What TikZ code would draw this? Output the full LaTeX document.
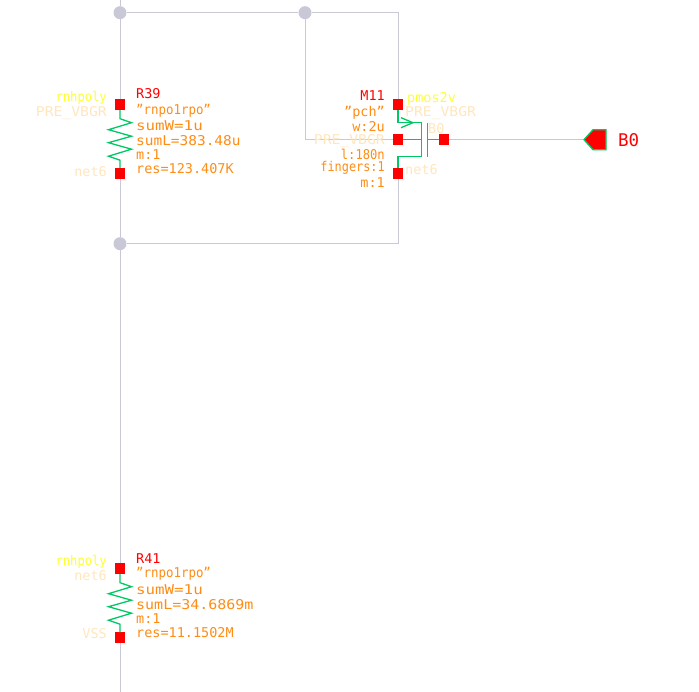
\documentclass[tikz,border=0pt]{standalone}
\usepackage{fontspec}
\setmainfont{DejaVu Sans Mono}
\definecolor{wirecol}{RGB}{200,200,215}
\definecolor{devcol}{RGB}{0,200,100}
\definecolor{parcol}{RGB}{255,140,20}
\definecolor{cellcol}{RGB}{255,255,50}
\definecolor{netcol}{RGB}{255,230,190}
\newcommand{\fitw}[2]{\scalebox{#1}[1]{#2}}
\begin{document}
\begin{tikzpicture}
      [x=1pt, y=-1pt,
      pinbox/.style={rectangle, fill=red, inner sep=0pt, minimum size=10.5pt},
      dot/.style={circle, fill=wirecol, inner sep=0pt, minimum size=13pt},
      wire/.style={draw=wirecol, line width=1pt},
      dev/.style={draw=devcol, line width=1.3pt},
      lab/.style={inner sep=0pt, font=\fontsize{13.5}{13.5}\selectfont},
      par/.style={lab, text=parcol, anchor=west},
      parl/.style={lab, text=parcol, anchor=east},
      inst/.style={lab, text=red},
      cell/.style={lab, text=cellcol},
      net/.style={lab, text=netcol}]
      \useasboundingbox (0,-0.7) rectangle (699,691.3);
      \coordinate (top) at (120,-0.7);
      \coordinate (bot) at (120,691.3);
      \coordinate (cnrA) at (398,12);
      \coordinate (cnrB) at (305,139);
      \coordinate (cnrC) at (398,243);
      \node (dotA) at (120,12) [dot] {};
      \node (dotB) at (305,12) [dot] {};
      \node (dotC) at (120,243) [dot] {};
      % pins
      \node (r39a) at (120,104) [pinbox] {};
      \node (r39b) at (120,173) [pinbox] {};
      \node (r41a) at (120,568) [pinbox] {};
      \node (r41b) at (120,637) [pinbox] {};
      \node (m11d) at (398,104) [pinbox] {};
      \node (m11b) at (398,139) [pinbox] {};
      \node (m11s) at (398,173) [pinbox] {};
      \node (m11g) at (444,139) [pinbox] {};
      % wires
      \draw[wire] (top) -- (dotA);
      \draw[wire] (dotA) -- (r39a);
      \draw[wire] (r39b) -- (dotC);
      \draw[wire] (dotC) -- (r41a);
      \draw[wire] (r41b) -- (bot);
      \draw[wire] (dotA) -- (dotB);
      \draw[wire] (dotB) -- (cnrA) -- (m11d);
      \draw[wire] (dotB) -- (cnrB) -- (m11b);
      \draw[wire] (m11s) -- (cnrC) -- (dotC);
      % resistors
      \foreach \n in {r39,r41}
        \draw[dev] (\n a) -- ++(0,14) -- ++(11.5,4) -- ++(-23,7) -- ++(23,6.5)
          -- ++(-23,6.5) -- ++(23,6.5) -- ++(-23,7) -- ++(11.5,4) -- (\n b);
      % mos
      \draw[dev] (m11d) -- (398,122) -- (421.5,122) -- (421.5,156) -- (398,156) -- (m11s);
      \draw[dev] (401,117) -- (413,122) -- (401,127);
      \draw[dev] (m11b) -- (421.5,139);
      \draw[dev] (m11g) -- (427.5,139);
      \draw[dev] (427.5,122) -- (427.5,156);
      % output pin
      \coordinate (b0tip) at (584,139);
      \draw[wire] (m11g) -- (b0tip);
      \draw[draw=devcol, fill=red, line width=1.3pt] (b0tip) -- (593,129) -- (606,129) -- (606,149) -- (593,149) -- cycle;
      \node (b0) at (618,139.5) [lab, text=red, anchor=west, font=\fontsize{17.5}{17.5}\selectfont] {B0};
      % R39
      \node (r39n) at (136,93) [inst, anchor=west] {R39};
      \node (r39c) at (136,110) [par] {\fitw{0.92}{"rnpo1rpo"}};
      \node (r39w) at (136,125) [par] {\fitw{1.17}{sumW=1u}};
      \node (r39l) at (136,140) [par] {\fitw{1.07}{sumL=383.48u}};
      \node (r39m) at (136,154) [par] {m:1};
      \node (r39r) at (136,168) [par] {res=123.407K};
      \node (r39t) at (107,97) [cell, anchor=east] {\fitw{0.9}{rnhpoly}};
      \node (r39p) at (107,112) [net, anchor=east] {\fitw{1.09}{PRE\_VBGR}};
      \node (r39q) at (107,171) [net, anchor=east] {net6};
      % R41
      \node (r41n) at (136,558) [inst, anchor=west] {R41};
      \node (r41c) at (136,573) [par] {\fitw{0.92}{"rnpo1rpo"}};
      \node (r41w) at (136,589) [par] {\fitw{1.17}{sumW=1u}};
      \node (r41l) at (136,604) [par] {\fitw{1.11}{sumL=34.6869m}};
      \node (r41m) at (136,618) [par] {m:1};
      \node (r41r) at (136,632) [par] {res=11.1502M};
      \node (r41t) at (107,561) [cell, anchor=east] {\fitw{0.9}{rnhpoly}};
      \node (r41p) at (107,575) [net, anchor=east] {net6};
      \node (r41q) at (107,633) [net, anchor=east] {VSS};
      % M11
      \node (m11n) at (385,95) [inst, anchor=east] {M11};
      \node (m11c) at (385,112) [parl] {"pch"};
      \node (m11w) at (385,126) [parl] {w:2u};
      \node (m11p) at (385,140) [net, anchor=east] {\fitw{1.09}{PRE\_VBGR}};
      \node (m11l) at (385,153.5) [parl] {\fitw{0.9}{l:180n}};
      \node (m11f) at (385,167.5) [parl] {\fitw{0.88}{fingers:1}};
      \node (m11m) at (385,181.5) [parl] {m:1};
      \node (m11t) at (407,98) [cell, anchor=west] {pmos2v};
      \node (m11q) at (405,112) [net, anchor=west] {\fitw{1.09}{PRE\_VBGR}};
      \node (m11h) at (428,128) [net, anchor=west] {B0};
      \node (m11k) at (405,169) [net, anchor=west] {net6};
    \end{tikzpicture}
\end{document}
